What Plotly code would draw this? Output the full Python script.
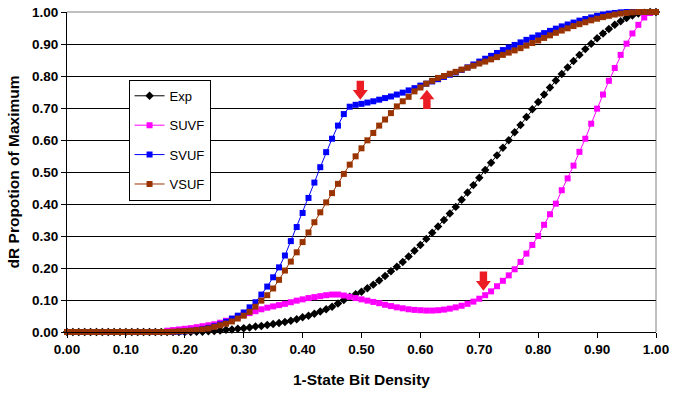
import plotly.graph_objects as go

# ---------------- data ----------------
bit_density = [i / 100 for i in range(101)]

exp_vals = [0.0] * 20 + [
    0.000, 0.000, 0.001, 0.001, 0.002, 0.003, 0.005, 0.007, 0.008, 0.010,
    0.012, 0.014, 0.017, 0.019, 0.022, 0.025, 0.028, 0.031, 0.035, 0.040,
    0.046, 0.051, 0.057, 0.064, 0.071, 0.079, 0.089, 0.100, 0.110, 0.118,
    0.126, 0.137, 0.148, 0.161, 0.175, 0.190, 0.204, 0.219, 0.236, 0.254,
    0.272, 0.291, 0.310, 0.330, 0.350, 0.370, 0.391, 0.413, 0.436, 0.459,
    0.482, 0.506, 0.529, 0.552, 0.576, 0.599, 0.624, 0.647, 0.672, 0.696,
    0.719, 0.742, 0.764, 0.786, 0.806, 0.827, 0.847, 0.866, 0.884, 0.901,
    0.918, 0.933, 0.947, 0.960, 0.971, 0.981, 0.989, 0.995, 0.998, 1.000,
    1.000,
]

suvf_vals = [0.0] * 17 + [
    0.004, 0.006, 0.008,
    0.010, 0.012, 0.015, 0.018, 0.021, 0.024, 0.029, 0.035, 0.041, 0.047,
    0.053, 0.059, 0.065, 0.071, 0.076, 0.080, 0.084, 0.088, 0.093, 0.098,
    0.102, 0.106, 0.109, 0.112, 0.115, 0.117, 0.117, 0.114, 0.110, 0.106,
    0.102, 0.098, 0.094, 0.090, 0.085, 0.081, 0.077, 0.074, 0.071, 0.069,
    0.068, 0.067, 0.067, 0.068, 0.070, 0.073, 0.077, 0.082, 0.088, 0.095,
    0.104, 0.115, 0.127, 0.143, 0.160, 0.177, 0.196, 0.219, 0.245, 0.272,
    0.300, 0.335, 0.368, 0.401, 0.443, 0.480, 0.520, 0.563, 0.604, 0.651,
    0.698, 0.742, 0.785, 0.825, 0.866, 0.901, 0.933, 0.960, 0.983, 0.997,
    1.000,
]

svuf_vals = [0.0] * 18 + [
    0.000, 0.001,
    0.002, 0.004, 0.006, 0.009, 0.013, 0.018, 0.024, 0.032, 0.042, 0.051,
    0.061, 0.077, 0.093, 0.117, 0.142, 0.171, 0.202, 0.239, 0.284, 0.328,
    0.372, 0.419, 0.467, 0.515, 0.562, 0.604, 0.645, 0.681, 0.704, 0.710,
    0.713, 0.717, 0.721, 0.726, 0.731, 0.736, 0.742, 0.748, 0.755, 0.762,
    0.770, 0.776, 0.783, 0.790, 0.797, 0.804, 0.811, 0.819, 0.827, 0.836,
    0.845, 0.854, 0.863, 0.872, 0.881, 0.889, 0.897, 0.905, 0.913, 0.920,
    0.927, 0.934, 0.941, 0.948, 0.955, 0.961, 0.967, 0.973, 0.978, 0.983,
    0.988, 0.992, 0.995, 0.997, 0.999, 1.000, 1.000, 1.000, 1.000, 1.000,
    1.000,
]

vsuf_vals = [0.0] * 18 + [
    0.001, 0.002,
    0.003, 0.004, 0.006, 0.008, 0.011, 0.016, 0.021, 0.026, 0.033, 0.042,
    0.051, 0.063, 0.079, 0.098, 0.115, 0.136, 0.163, 0.192, 0.220, 0.249,
    0.281, 0.311, 0.343, 0.374, 0.405, 0.434, 0.463, 0.494, 0.523, 0.549,
    0.574, 0.599, 0.622, 0.645, 0.664, 0.684, 0.705, 0.721, 0.735, 0.752,
    0.764, 0.776, 0.785, 0.794, 0.800, 0.807, 0.813, 0.820, 0.826, 0.832,
    0.839, 0.845, 0.852, 0.859, 0.866, 0.873, 0.880, 0.887, 0.895, 0.903,
    0.911, 0.919, 0.927, 0.935, 0.942, 0.949, 0.956, 0.962, 0.968, 0.974,
    0.979, 0.984, 0.988, 0.992, 0.995, 0.997, 0.999, 1.000, 1.000, 1.000,
    1.000,
]

series_names = ["Exp", "SUVF", "SVUF", "VSUF"]
series_values = [exp_vals, suvf_vals, svuf_vals, vsuf_vals]
series_colors = ["#000000", "#FF00FF", "#0000FF", "#993300"]
series_symbols = ["diamond", "square", "square", "square"]

tick_vals = [i / 10 for i in range(11)]
x_title = "1-State Bit Density"
y_title = "dR Propotion of Maximum"

# red block arrows: (x centre, tail y, tip y)
arrow_specs = [(0.498, 0.785, 0.726), (0.611, 0.697, 0.757), (0.707, 0.189, 0.129)]
ARROW_RED = "#EC1C24"

# ---------------- figure ----------------
fig = go.Figure()
for name, vals, color, sym in zip(series_names, series_values, series_colors, series_symbols):
    fig.add_trace(go.Scatter(
        x=bit_density, y=vals, name=name, mode="lines+markers",
        line=dict(color=color, width=1),
        marker=dict(symbol=sym, size=6 if sym == "square" else 6.5, color=color, line=dict(width=0)),
        cliponaxis=False, legendgroup=name,
    ))

shapes = []
shapes.append(dict(type="line", xref="paper", yref="paper", x0=0, x1=1, y0=1, y1=1,
                   line=dict(color="#808080", width=1), layer="between"))
shapes.append(dict(type="line", xref="paper", yref="paper", x0=1, x1=1, y0=0, y1=1,
                   line=dict(color="#808080", width=1), layer="between"))

shaft_hw, head_hw, head_len = 0.0063, 0.0127, 0.030
for xc, ytail, ytip in arrow_specs:
    d = 1 if ytip > ytail else -1
    ybase = ytip - d * head_len
    path = (f"M {xc - shaft_hw} {ytail} L {xc + shaft_hw} {ytail} L {xc + shaft_hw} {ybase} "
            f"L {xc + head_hw} {ybase} L {xc} {ytip} L {xc - head_hw} {ybase} "
            f"L {xc - shaft_hw} {ybase} Z")
    shapes.append(dict(type="path", xref="x", yref="y", path=path,
                       fillcolor=ARROW_RED, line=dict(width=0), layer="above"))

annotations = [
    dict(text=x_title, xref="paper", yref="paper", x=0.5, y=-0.115,
         xanchor="center", yanchor="top", showarrow=False,
         font=dict(size=15.5, weight="bold")),
    dict(text=y_title, xref="paper", yref="paper", x=-0.091, y=0.5,
         xanchor="center", yanchor="middle", textangle=-90, showarrow=False,
         font=dict(size=15.5, weight="bold")),
]

fig.update_layout(
    width=674, height=393,
    margin=dict(l=67, r=18, t=12, b=61, autoexpand=False),
    paper_bgcolor="white", plot_bgcolor="white",
    font=dict(family="Liberation Sans, Arial, sans-serif", color="black"),
    showlegend=True,
    legend=dict(x=0.1045, y=0.788, xanchor="left", yanchor="top",
                bordercolor="black", borderwidth=1, bgcolor="white",
                font=dict(size=13), tracegroupgap=9.5, itemwidth=30),
    shapes=shapes,
    annotations=annotations,
)
fig.update_xaxes(
    range=[0, 1], tickvals=tick_vals, tickformat=".2f", automargin=False,
    ticks="outside", ticklen=5, tickcolor="black",
    showline=True, linecolor="black", linewidth=1,
    showgrid=False, zeroline=False,
    tickfont=dict(size=13.5, weight="bold"),
)
fig.update_yaxes(
    range=[0, 1], tickvals=tick_vals, tickformat=".2f", automargin=False,
    ticks="outside", ticklen=5, tickcolor="black",
    showline=True, linecolor="black", linewidth=1,
    showgrid=True, gridcolor="black", gridwidth=1, zeroline=False,
    tickfont=dict(size=13.5, weight="bold"),
)

fig.write_html("out.html", config={"displayModeBar": False},
               post_script="document.body.style.margin='0';document.body.style.overflow='hidden';")
